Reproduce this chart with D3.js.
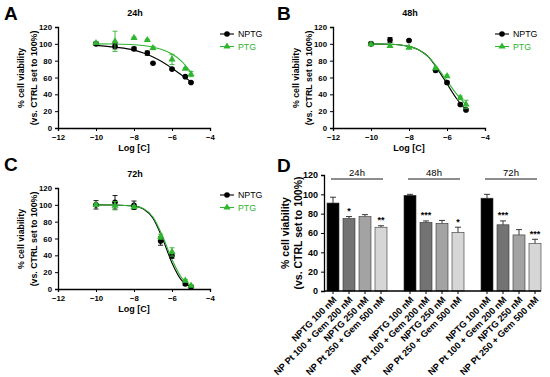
<!DOCTYPE html>
<html>
<head>
<meta charset="utf-8">
<script src="https://cdn.jsdelivr.net/npm/d3@7"></script>
<style>
  body { margin: 0; background: #fff; }
  svg { font-family: "Liberation Sans", Arial, sans-serif; }
  .tick text { font-weight: bold; }
</style>
</head>
<body>
<div id="chart"></div>
<script>
// ---- data ----
// dose-response panels: log concentration vs % viability
const series = ["NPTG", "PTG"];
const seriesColors = ["#000000", "#2fb52f"];

// 24h
const a_x_nptg = [-10, -9, -8, -7.3, -7, -6, -5.3, -5];
const a_y_nptg = [100, 97, 94, 89, 77, 70, 61, 54];
const a_e_nptg = [2, 3, 2, 2.5, 0.5, 1, 1, 1];
const a_x_ptg = [-10, -9, -8, -7.3, -7, -6, -5.3, -5];
const a_y_ptg = [101, 103, 107, 104.5, 95, 81.5, 70.5, 64];
const a_e_ptg = [1, 12, 1, 1, 2, 6, 1, 3];
// fitted curves, read at a few points
const a_cx = [-10, -9, -8, -7.5, -7, -6.5, -6, -5.5, -5];
const a_cy_nptg = [98.2, 96, 92.5, 89, 84.5, 78.5, 71, 63, 55];
const a_cy_ptg = [100, 99.8, 99, 98, 96, 93, 88, 79.5, 66];

// 48h
const b_x = [-10, -9, -8, -6.6, -6, -5.3, -5];
const b_y_nptg = [100, 104.5, 104, 68.5, 54, 28, 21.5];
const b_e_nptg = [2, 3, 1, 2, 1.5, 1.5, 1];
const b_y_ptg = [99.5, 97.5, 95.5, 71, 61.5, 36, 28];
const b_e_ptg = [1, 1.5, 1, 1.5, 1.5, 2, 5];
const b_cx = [-10, -9, -8, -7.5, -7, -6.5, -6, -5.5, -5];
const b_cy_nptg = [100, 99.5, 97, 93, 85, 70, 52.5, 35, 21.5];
const b_cy_ptg = [100, 99.5, 97, 93, 85, 71.5, 56, 40.5, 27.5];

// 72h
const c_x = [-10, -9, -8, -6.6, -6, -5.3, -5];
const c_y_nptg = [100, 103, 99.5, 57, 39.5, 6, 2.5];
const c_e_nptg = [5, 8, 5, 5, 3, 1.5, 1];
const c_y_ptg = [100, 99, 97.5, 62, 44, 10, 4];
const c_e_ptg = [1.5, 5, 1.5, 3, 5, 1.5, 1];
const c_cx = [-10, -9, -8, -7.5, -7, -6.5, -6, -5.5, -5];
const c_cy_nptg = [100, 99.8, 98.5, 95, 84, 60, 31, 10.5, 3];
const c_cy_ptg = [100, 99.8, 98.5, 95.5, 85.5, 63, 35, 13.5, 4];

const xTicks = [-12, -10, -8, -6, -4];
const yTicks = [0, 20, 40, 60, 80, 100, 120];

// bar panel
const groups = ["24h", "48h", "72h"];
const treatments = ["NPTG 100 nM", "NP Pt 100 + Gem 200 nM", "NPTG 250 nM", "NP Pt 250 + Gem 500 nM"];
const barColors = ["#000000", "#737373", "#a3a3a3", "#d6d6d6"];
const bar24 = [91, 75, 77, 66];
const err24 = [6, 2, 2, 1.5];
const sig24 = ["", "*", "", "**"];
const bar48 = [99, 71, 70, 60.5];
const err48 = [1, 1.5, 3, 5.5];
const sig48 = ["", "***", "", "*"];
const bar72 = [96, 68.5, 58, 49];
const err72 = [4, 4, 5.5, 4.5];
const sig72 = ["", "***", "", "***"];

const W = 550, H = 377;
const svg = d3.select("#chart").append("svg").attr("width", W).attr("height", H);

function panelLetter(x, y, t) {
  svg.append("text").attr("x", x).attr("y", y).text(t)
    .attr("font-size", 19).attr("font-weight", "bold");
}

function yLabel(g, cx, cy, fs, gap) {
  const t = g.append("text").attr("transform", `translate(${cx},${cy}) rotate(-90)`)
    .attr("text-anchor", "middle").attr("font-size", fs).attr("font-weight", "bold");
  t.append("tspan").attr("x", 0).attr("dy", 0).text("% cell viability");
  t.append("tspan").attr("x", 0).attr("dy", gap).text("(vs. CTRL set to 100%)");
}

function drawDose(ox, oy, title, pts, curves) {
  const g = svg.append("g").attr("transform", `translate(${ox},${oy})`);
  const x = d3.scaleLinear().domain([-12, -4]).range([58, 210]);
  const y = d3.scaleLinear().domain([0, 120]).range([128, 27]);

  g.append("g").attr("transform", "translate(0,128)")
    .call(d3.axisBottom(x).tickValues(xTicks).tickSize(3).tickFormat(d3.format("d")))
    .call(a => a.selectAll("text").attr("font-size", 7.8).attr("fill", "#000"))
    .call(a => a.select(".domain").attr("stroke-width", 1.3));
  g.append("g").attr("transform", "translate(58,0)")
    .call(d3.axisLeft(y).tickValues(yTicks).tickSize(3))
    .call(a => a.selectAll("text").attr("font-size", 7.8).attr("fill", "#000"))
    .call(a => a.select(".domain").attr("stroke-width", 1.3));

  g.append("text").attr("x", 135).attr("y", 16).attr("text-anchor", "middle")
    .attr("font-size", 9).attr("font-weight", "bold").text(title);
  g.append("text").attr("x", 134).attr("y", 151).attr("text-anchor", "middle")
    .attr("font-size", 9).attr("font-weight", "bold").text("Log [C]");
  yLabel(g, 24, 78, 8.8, 12.5);

  const line = d3.line().x(d => x(d[0])).y(d => y(d[1])).curve(d3.curveMonotoneX);
  curves.forEach((c, i) => {
    g.append("path").datum(d3.zip(c.x, c.y)).attr("d", line)
      .attr("fill", "none").attr("stroke", seriesColors[i]).attr("stroke-width", 1.1);
  });

  pts.forEach((p, i) => {
    const col = seriesColors[i];
    const data = p.x.map((v, k) => ({ x: v, y: p.y[k], e: p.e[k] }));
    const eb = g.append("g").attr("stroke", col).attr("stroke-width", 0.9);
    data.forEach(d => {
      eb.append("line").attr("x1", x(d.x)).attr("x2", x(d.x)).attr("y1", y(d.y - d.e)).attr("y2", y(d.y + d.e));
      [d.y - d.e, d.y + d.e].forEach(v =>
        eb.append("line").attr("x1", x(d.x) - 2.5).attr("x2", x(d.x) + 2.5).attr("y1", y(v)).attr("y2", y(v)));
    });
    if (i === 0) {
      g.selectAll(null).data(data).enter().append("circle")
        .attr("cx", d => x(d.x)).attr("cy", d => y(d.y)).attr("r", 2.8).attr("fill", col);
    } else {
      g.selectAll(null).data(data).enter().append("path")
        .attr("d", d3.symbol(d3.symbolTriangle, 22))
        .attr("transform", d => `translate(${x(d.x)},${y(d.y)})`).attr("fill", col);
    }
  });

  // legend
  series.forEach((s, i) => {
    const ly = 34 + i * 12.5;
    const col = seriesColors[i];
    g.append("line").attr("x1", 220).attr("x2", 234).attr("y1", ly).attr("y2", ly)
      .attr("stroke", col).attr("stroke-width", 1.1);
    if (i === 0) g.append("circle").attr("cx", 227).attr("cy", ly).attr("r", 2.8).attr("fill", col);
    else g.append("path").attr("d", d3.symbol(d3.symbolTriangle, 22)).attr("transform", `translate(227,${ly})`).attr("fill", col);
    g.append("text").attr("x", 238).attr("y", ly + 3.2).attr("font-size", 8.8).attr("fill", col).text(s);
  });
}

drawDose(0, 0, "24h",
  [{ x: a_x_nptg, y: a_y_nptg, e: a_e_nptg }, { x: a_x_ptg, y: a_y_ptg, e: a_e_ptg }],
  [{ x: a_cx, y: a_cy_nptg }, { x: a_cx, y: a_cy_ptg }]);
drawDose(275, 0, "48h",
  [{ x: b_x, y: b_y_nptg, e: b_e_nptg }, { x: b_x, y: b_y_ptg, e: b_e_ptg }],
  [{ x: b_cx, y: b_cy_nptg }, { x: b_cx, y: b_cy_ptg }]);
drawDose(0, 161, "72h",
  [{ x: c_x, y: c_y_nptg, e: c_e_nptg }, { x: c_x, y: c_y_ptg, e: c_e_ptg }],
  [{ x: c_cx, y: c_cy_nptg }, { x: c_cx, y: c_cy_ptg }]);

panelLetter(4, 20, "A");
panelLetter(277, 20, "B");
panelLetter(4, 171, "C");
panelLetter(277, 172, "D");

// ---- panel D: bars ----
const gD = svg.append("g");
const yD = d3.scaleLinear().domain([0, 120]).range([291, 175]);
const xG = d3.scaleBand().domain(groups).range([318.5, 549.5]);
const xB = d3.scaleBand().domain(treatments).range([6.5, 70.5]).paddingInner(0.25).paddingOuter(0.125);
const barData = [
  { g: "24h", v: bar24, e: err24, s: sig24 },
  { g: "48h", v: bar48, e: err48, s: sig48 },
  { g: "72h", v: bar72, e: err72, s: sig72 }
];

gD.append("g").attr("transform", "translate(324,0)")
  .call(d3.axisLeft(yD).tickValues(yTicks).tickSize(3))
  .call(a => a.selectAll("text").attr("font-size", 9).attr("fill", "#000"))
  .call(a => a.select(".domain").attr("stroke-width", 1.3));
yLabel(gD, 289, 233, 10.5, 13);

barData.forEach(bd => {
  const gx = xG(bd.g);
  const gc = gx + xG.bandwidth() / 2;
  gD.append("line").attr("x1", gc - 26).attr("x2", gc + 26).attr("y1", 179).attr("y2", 179)
    .attr("stroke", "#000").attr("stroke-width", 0.9);
  gD.append("text").attr("x", gc).attr("y", 176).attr("text-anchor", "middle")
    .attr("font-size", 9.5).text(bd.g);

  treatments.forEach((t, i) => {
    const bx = gx + xB(t);
    const cx = bx + xB.bandwidth() / 2;
    const v = bd.v[i], e = bd.e[i];
    gD.append("line").attr("x1", cx).attr("x2", cx).attr("y1", yD(v)).attr("y2", yD(v + e))
      .attr("stroke", "#222").attr("stroke-width", 0.9);
    gD.append("line").attr("x1", cx - 3).attr("x2", cx + 3).attr("y1", yD(v + e)).attr("y2", yD(v + e))
      .attr("stroke", "#222").attr("stroke-width", 0.9);
    gD.append("rect").attr("x", bx).attr("y", yD(v)).attr("width", xB.bandwidth())
      .attr("height", yD(0) - yD(v)).attr("fill", barColors[i])
      .attr("stroke", "#333").attr("stroke-width", 0.6);
    if (bd.s[i]) {
      gD.append("text").attr("x", cx).attr("y", yD(v + e) - 2.5).attr("text-anchor", "middle")
        .attr("font-size", 9).attr("font-weight", "bold").text(bd.s[i]);
    }
    // tick and rotated label
    gD.append("line").attr("x1", cx).attr("x2", cx).attr("y1", 291).attr("y2", 294)
      .attr("stroke", "#000").attr("stroke-width", 1);
    gD.append("text").attr("transform", `translate(${cx + 2},${298}) rotate(-45)`)
      .attr("text-anchor", "end").attr("font-size", 9.2).attr("font-weight", "bold")
      .attr("dy", "0.35em").text(t);
  });
});
gD.append("line").attr("x1", 324).attr("x2", 541).attr("y1", 291).attr("y2", 291)
  .attr("stroke", "#000").attr("stroke-width", 1.3);
</script>
</body>
</html>
